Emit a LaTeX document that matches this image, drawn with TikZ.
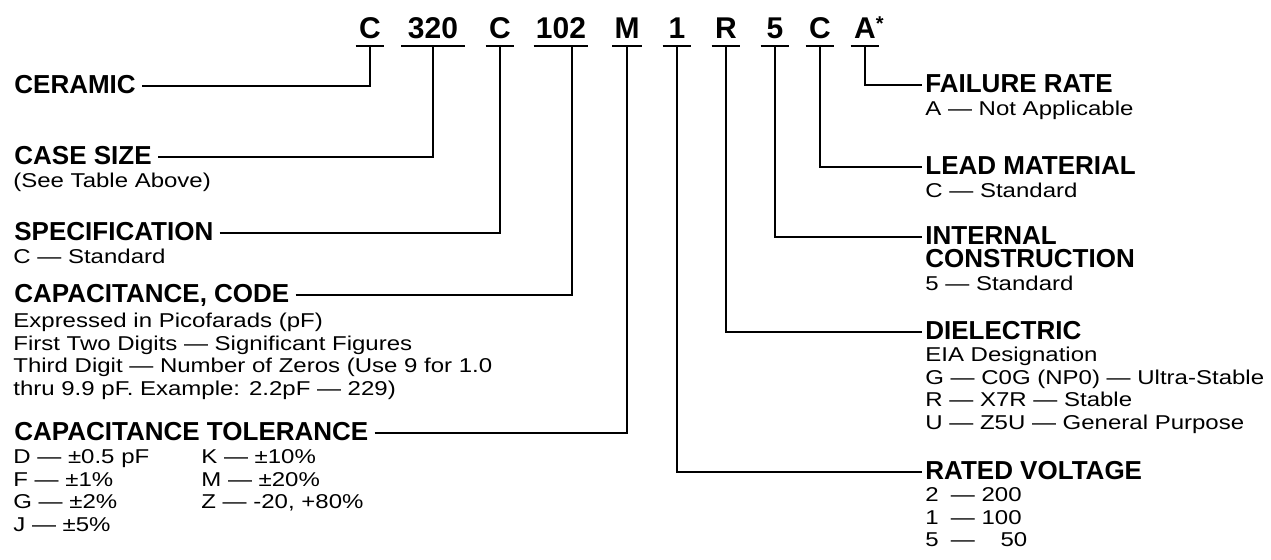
\documentclass[tikz,border=0pt]{standalone}
\usepackage{fontspec}
\setmainfont{Liberation Sans}
\newfontfamily\wideface[FakeStretch=1.2]{Liberation Sans}
\usetikzlibrary{calc}

% lines of a text block, first line on the node's baseline
\newcommand{\stack}[1]{\begin{tabular}[t]{@{}l@{}}#1\end{tabular}}

\tikzset{
  code/.style={font=\bfseries\fontsize{15}{15}\selectfont, text height=10.8pt, text depth=0pt,
    inner xsep=1pt, inner ysep=3.5pt, minimum width=14pt, anchor=base},
  head/.style={font=\bfseries\fontsize{13}{15}\selectfont, text height=8pt, text depth=0pt,
    inner xsep=3pt, inner ysep=0pt, anchor=base west},
  rhead/.style={head, inner xsep=1.5pt},
  info/.style={font=\wideface\fontsize{10}{11.25}\selectfont, inner sep=0pt, anchor=base west},
  wire/.style={line width=1.1pt},
}

\begin{document}
\begin{tikzpicture}[x=0.5pt, y=-0.5pt]
\useasboundingbox (0,0) rectangle (1271,560);

% part number
\node[code] (cC) at (370,39) {C};
\node[code, minimum width=31.5pt] (c320) at (433,39) {320};
\node[code] (cS) at (500,39) {C};
\node[code] (c102) at (561,39) {102};
\node[code] (cM) at (627,39) {M};
\node[code] (c1) at (677,39) {1};
\node[code] (cR) at (726,39) {R};
\node[code] (c5) at (775,39) {5};
\node[code] (cL) at (820,39) {C};
\node[code] (cA) at (865,39) {A\rlap{\raisebox{4pt}{\fontsize{10}{10}\selectfont *}}};

\foreach \n in {cC,c320,cS,c102,cM,c1,cR,c5,cL,cA}
  \draw[wire] (\n.south west) -- (\n.south east);

% left side
\node[head] (ceramic) at (8,94) {CERAMIC};

\node[head] (casesize) at (8,165) {CASE SIZE};
\node[info] (casesizeTxt) at (13,188) {(See Table Above)};

\node[head] (spec) at (8,241) {SPECIFICATION};
\node[info] (specTxt) at (13,264) {C — Standard};

\node[head] (capcode) at (8,303) {CAPACITANCE, CODE};
\node[info] (capcodeTxt) at (13,328) {\stack{Expressed in Picofarads (pF)\\
  First Two Digits — Significant Figures\\
  Third Digit — Number of Zeros (Use 9 for 1.0\\
  thru 9.9 pF. Example: 2.2pF — 229)}};

\node[head] (captol) at (8,441) {CAPACITANCE TOLERANCE};
\node[info] (captolA) at (13,464) {\stack{D — ±0.5 pF\\ F — ±1\%\\ G — ±2\%\\ J — ±5\%}};
\node[info] (captolB) at (201,464) {\stack{K — ±10\%\\ M — ±20\%\\ Z — -20, +80\%}};

% right side
\node[rhead] (failure) at (922,93) {FAILURE RATE};
\node[info] (failureTxt) at (925,116) {A — Not Applicable};

\node[rhead] (leadmat) at (922,175) {LEAD MATERIAL};
\node[info] (leadmatTxt) at (925,198) {C — Standard};

\node[rhead] (internal) at (922,245) {INTERNAL};
\node[rhead] (construct) at (922,268) {CONSTRUCTION};
\node[info] (internalTxt) at (925,291) {5 — Standard};

\node[rhead] (diel) at (922,340) {DIELECTRIC};
\node[info] (dielTxt) at (925,362) {\stack{EIA Designation\\
  G — C0G (NP0) — Ultra-Stable\\
  R — X7R — Stable\\
  U — Z5U — General Purpose}};

\node[rhead] (volt) at (922,480) {RATED VOLTAGE};
\node[info] (voltTxt) at (925,502) {\stack{2 \;— 200\\ 1 \;— 100\\ 5 \;— \phantom{0}\;50}};

% leaders
\draw[wire] (ceramic.east) -| (cC.south);
\draw[wire] (casesize.east) -| (c320.south);
\draw[wire] (spec.east) -| (cS.south);
\draw[wire] (capcode.east) -| ($(c102.south)+(11,0)$);
\draw[wire] (captol.east) -| (cM.south);
\draw[wire] (c1.south) |- (volt.west);
\draw[wire] (cR.south) |- (diel.west);
\draw[wire] (c5.south) |- (internal.west);
\draw[wire] (cL.south) |- (leadmat.west);
\draw[wire] (cA.south) |- (failure.west);
\end{tikzpicture}
\end{document}
